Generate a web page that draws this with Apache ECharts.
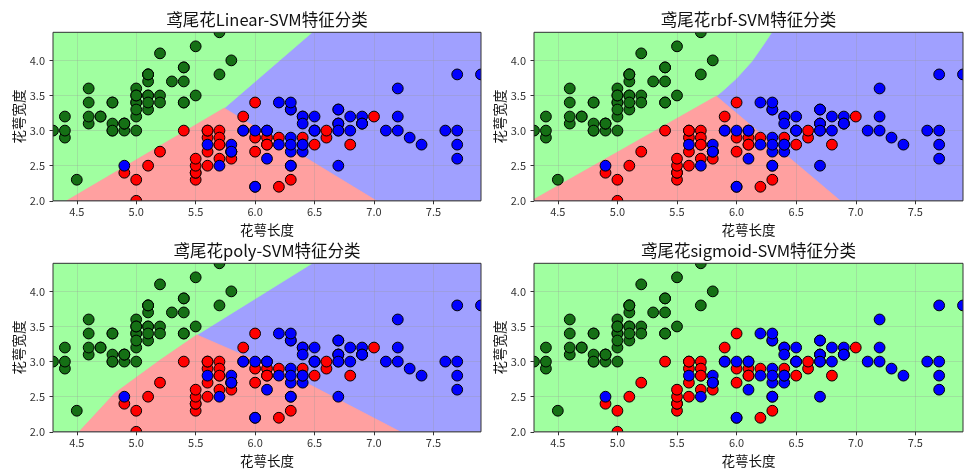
<!DOCTYPE html>
<html><head><meta charset="utf-8">
<script src="https://cdn.jsdelivr.net/npm/echarts@6/dist/echarts.min.js"></script>
<style>html,body{margin:0;padding:0;background:#fff}#c{width:977px;height:476px}</style>
</head><body><div id="c"></div><script>
// ---- data: iris sepal length / sepal width by class ----
const setosa = [[5.1,3.5],[4.9,3.0],[4.7,3.2],[4.6,3.1],[5.0,3.6],[5.4,3.9],[4.6,3.4],[5.0,3.4],[4.4,2.9],[4.9,3.1],[5.4,3.7],[4.8,3.4],[4.8,3.0],[4.3,3.0],[5.8,4.0],[5.7,4.4],[5.4,3.9],[5.1,3.5],[5.7,3.8],[5.1,3.8],[5.4,3.4],[5.1,3.7],[4.6,3.6],[5.1,3.3],[4.8,3.4],[5.0,3.0],[5.0,3.4],[5.2,3.5],[5.2,3.4],[4.7,3.2],[4.8,3.1],[5.4,3.4],[5.2,4.1],[5.5,4.2],[4.9,3.1],[5.0,3.2],[5.5,3.5],[4.9,3.1],[4.4,3.0],[5.1,3.4],[5.0,3.5],[4.5,2.3],[4.4,3.2],[5.0,3.5],[5.1,3.8],[4.8,3.0],[5.1,3.8],[4.6,3.2],[5.3,3.7],[5.0,3.3]];
const versicolor = [[7.0,3.2],[6.4,3.2],[6.9,3.1],[5.5,2.3],[6.5,2.8],[5.7,2.8],[6.3,3.3],[4.9,2.4],[6.6,2.9],[5.2,2.7],[5.0,2.0],[5.9,3.0],[6.0,2.2],[6.1,2.9],[5.6,2.9],[6.7,3.1],[5.6,3.0],[5.8,2.7],[6.2,2.2],[5.6,2.5],[5.9,3.2],[6.1,2.8],[6.3,2.5],[6.1,2.8],[6.4,2.9],[6.6,3.0],[6.8,2.8],[6.7,3.0],[6.0,2.9],[5.7,2.6],[5.5,2.4],[5.5,2.4],[5.8,2.7],[6.0,2.7],[5.4,3.0],[6.0,3.4],[6.7,3.1],[6.3,2.3],[5.6,3.0],[5.5,2.5],[5.5,2.6],[6.1,3.0],[5.8,2.6],[5.0,2.3],[5.6,2.7],[5.7,3.0],[5.7,2.9],[6.2,2.9],[5.1,2.5],[5.7,2.8]];
const virginica = [[6.3,3.3],[5.8,2.7],[7.1,3.0],[6.3,2.9],[6.5,3.0],[7.6,3.0],[4.9,2.5],[7.3,2.9],[6.7,2.5],[7.2,3.6],[6.5,3.2],[6.4,2.7],[6.8,3.0],[5.7,2.5],[5.8,2.8],[6.4,3.2],[6.5,3.0],[7.7,3.8],[7.7,2.6],[6.0,2.2],[6.9,3.2],[5.6,2.8],[7.7,2.8],[6.3,2.7],[6.7,3.3],[7.2,3.2],[6.2,2.8],[6.1,3.0],[6.4,2.8],[7.2,3.0],[7.4,2.8],[7.9,3.8],[6.4,2.8],[6.3,2.8],[6.1,2.6],[7.7,3.0],[6.3,3.4],[6.4,3.1],[6.0,3.0],[6.9,3.1],[6.7,3.1],[6.9,3.1],[5.8,2.7],[6.8,3.2],[6.7,3.3],[6.7,3.0],[6.3,2.5],[6.5,3.0],[6.2,3.4],[5.9,3.0]];

const xRange = [4.3, 7.9];
const yRange = [2.0, 4.4];
const xTicks = [4.5, 5.0, 5.5, 6.0, 6.5, 7.0, 7.5];
const yTicks = [2.0, 2.5, 3.0, 3.5, 4.0];
const titles = ['鸢尾花Linear-SVM特征分类', '鸢尾花rbf-SVM特征分类', '鸢尾花poly-SVM特征分类', '鸢尾花sigmoid-SVM特征分类'];
const xName = '花萼长度';
const yName = '花萼宽度';

// ---- decision regions (boundary vertices, data units) ----
const fullArea = [[4.3,2.0],[7.9,2.0],[7.9,4.4],[4.3,4.4]];
const linearGreen = [[4.3,2.0],[4.415,2.0],[5.74,3.32],[6.48,4.4],[4.3,4.4]];
const linearRed = [[4.415,2.0],[7.02,2.0],[5.74,3.32]];
const rbfGreen = [[4.3,2.02],[5.83,3.49],[5.88,3.56],[6.0,3.745],[6.127,3.983],[6.224,4.219],[6.295,4.4],[4.3,4.4]];
const rbfRed = [[4.3,2.0],[4.3,2.02],[5.83,3.49],[6.87,2.0]];
const polyGreen = [[4.3,2.0],[4.52,2.0],[4.82,2.55],[5.2,3.02],[5.51,3.38],[6.48,4.4],[4.3,4.4]];
const polyRed = [[4.52,2.0],[7.22,2.0],[6.38,2.74],[5.51,3.38],[5.2,3.02],[4.82,2.55]];

// class index per region: 0 setosa, 1 versicolor, 2 virginica
const panels = [
  { polys: [fullArea, linearGreen, linearRed], cls: [2, 0, 1] },
  { polys: [fullArea, rbfGreen, rbfRed], cls: [2, 0, 1] },
  { polys: [fullArea, polyGreen, polyRed], cls: [2, 0, 1] },
  { polys: [fullArea], cls: [0] }
];

// ---- styles ----
const lightColors = ['#A0FFA0', '#FFA0A0', '#A0A0FF'];
const darkColors = ['#157015', '#FF0000', '#0000FF'];
const F = "'Noto Sans CJK SC', 'Noto Sans', sans-serif";
const grids = [
  { left: 53, top: 32.3, width: 428, height: 168.5 },
  { left: 534, top: 32.3, width: 429, height: 168.5 },
  { left: 53, top: 263.3, width: 428, height: 168.5 },
  { left: 534, top: 263.3, width: 429, height: 168.5 }
];

const chart = echarts.init(document.getElementById('c'), null, { renderer: 'canvas' });
const series = [];
panels.forEach((p, gi) => {
  series.push({
    type: 'custom', xAxisIndex: gi, yAxisIndex: gi, z: 1, clip: true, silent: true,
    data: p.polys.map(poly => poly[0]),
    renderItem: (params, api) => {
      const poly = p.polys[params.dataIndex];
      const col = lightColors[p.cls[params.dataIndex]];
      return { type: 'polygon', shape: { points: poly.map(v => api.coord(v)) },
        style: { fill: col, stroke: col, lineWidth: 0.8 } };
    }
  });
  [setosa, versicolor, virginica].forEach((pts, ci) => {
    series.push({
      type: 'custom', xAxisIndex: gi, yAxisIndex: gi, z: 4, clip: true, silent: true,
      data: pts, encode: { x: 0, y: 1 },
      renderItem: (params, api) => {
        const c = api.coord([api.value(0), api.value(1)]);
        return { type: 'circle', shape: { cx: c[0], cy: c[1], r: 5.4 },
          style: { fill: darkColors[ci], stroke: '#000', lineWidth: 1 } };
      }
    });
  });
  series.push({
    type: 'custom', xAxisIndex: gi, yAxisIndex: gi, z: 5, clip: false, silent: true,
    data: [[xRange[0], yRange[1]]],
    renderItem: (params, api) => {
      const a = api.coord([xRange[0], yRange[1]]);
      const b = api.coord([xRange[1], yRange[0]]);
      return { type: 'rect', shape: { x: a[0], y: a[1], width: b[0] - a[0], height: b[1] - a[1] },
        style: { fill: 'none', stroke: '#333', lineWidth: 1 } };
    }
  });
});

const gridLine = { show: true, lineStyle: { color: 'rgba(150,150,150,0.35)', width: 0.8 } };
chart.setOption({
  animation: false,
  backgroundColor: '#fff',
  grid: grids,
  xAxis: grids.map((g, i) => ({
    gridIndex: i, type: 'value', min: xRange[0], max: xRange[1], z: 3,
    name: xName, nameLocation: 'middle', nameGap: 22,
    nameTextStyle: { fontSize: 13.5, color: '#111', fontFamily: F },
    axisLine: { show: false },
    axisTick: { show: true, inside: false, length: 3.5, customValues: xTicks, lineStyle: { color: '#333' } },
    axisLabel: { customValues: xTicks, formatter: v => v.toFixed(1), fontSize: 11, color: '#333', margin: 6, fontFamily: F },
    splitLine: gridLine
  })),
  yAxis: grids.map((g, i) => ({
    gridIndex: i, type: 'value', min: yRange[0], max: yRange[1], z: 3,
    name: yName, nameLocation: 'middle', nameGap: 27,
    nameTextStyle: { fontSize: 13.5, color: '#111', fontFamily: F },
    axisLine: { show: false },
    axisTick: { show: true, inside: false, length: 3.5, customValues: yTicks, lineStyle: { color: '#333' } },
    axisLabel: { customValues: yTicks, formatter: v => v.toFixed(1), fontSize: 11, color: '#333', margin: 8, fontFamily: F },
    splitLine: gridLine
  })),
  graphic: grids.map((g, i) => ({
    type: 'text', x: g.left + g.width / 2, y: g.top - 12.5, z: 10,
    style: { text: titles[i], textAlign: 'center', textVerticalAlign: 'middle', fontSize: 16.5, fill: '#111', fontFamily: F }
  })),
  series: series
});
</script></body></html>
